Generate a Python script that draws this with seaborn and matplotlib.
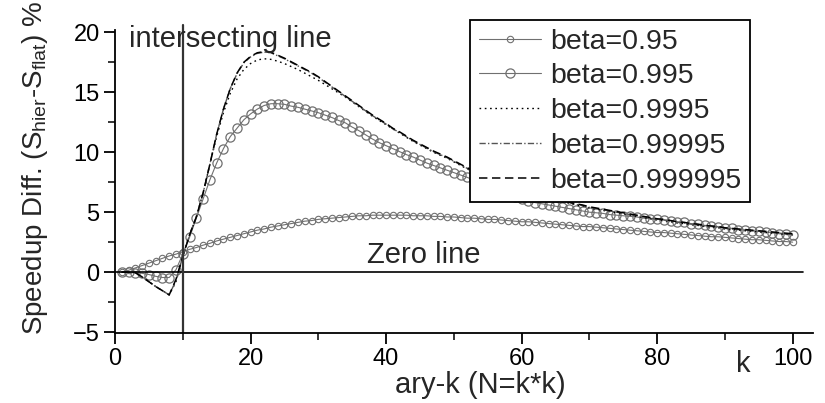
import matplotlib
matplotlib.use("Agg")
import matplotlib.pyplot as plt
import seaborn as sns
from matplotlib.ticker import MultipleLocator

# ---------------- data ----------------
k_values = list(range(1, 101))

beta_095 = [0.0, 0.15, 0.35, 0.55, 0.75, 0.95, 1.15, 1.35, 1.5, 1.7,
            1.9, 2.05, 2.25, 2.4, 2.6, 2.75, 2.9, 3.05, 3.2, 3.35,
            3.5, 3.6, 3.75, 3.85, 3.95, 4.05, 4.15, 4.25, 4.3, 4.4,
            4.45, 4.5, 4.55, 4.6, 4.65, 4.7, 4.7, 4.75, 4.75, 4.75,
            4.75, 4.75, 4.75, 4.7, 4.7, 4.7, 4.65, 4.65, 4.6, 4.6,
            4.55, 4.5, 4.5, 4.45, 4.4, 4.4, 4.35, 4.3, 4.25, 4.2,
            4.2, 4.15, 4.1, 4.05, 4.0, 3.95, 3.9, 3.85, 3.8, 3.8,
            3.75, 3.7, 3.65, 3.6, 3.55, 3.5, 3.45, 3.4, 3.35, 3.3,
            3.3, 3.25, 3.2, 3.15, 3.1, 3.05, 3.0, 2.95, 2.95, 2.9,
            2.85, 2.8, 2.75, 2.7, 2.7, 2.65, 2.6, 2.55, 2.55, 2.5]

beta_0995 = [0.0, 0.0, -0.05, -0.1, -0.2, -0.35, -0.45, -0.45, 0.2, 1.5,
             2.9, 4.5, 6.1, 7.7, 9.1, 10.3, 11.3, 12.0, 12.7, 13.2,
             13.6, 13.9, 14.05, 14.05, 14.0, 13.85, 13.75, 13.6, 13.45, 13.3,
             13.1, 12.9, 12.65, 12.45, 12.1, 11.8, 11.45, 11.1, 10.8, 10.55,
             10.3, 10.05, 9.8, 9.6, 9.35, 9.1, 8.9, 8.7, 8.5, 8.3,
             8.1, 7.9, 7.65, 7.4, 7.15, 6.9, 6.65, 6.45, 6.25, 6.1,
             5.95, 5.8, 5.7, 5.6, 5.5, 5.4, 5.3, 5.2, 5.1, 5.0,
             4.95, 4.9, 4.8, 4.75, 4.7, 4.65, 4.6, 4.5, 4.45, 4.4,
             4.35, 4.3, 4.2, 4.15, 4.05, 4.0, 3.9, 3.85, 3.8, 3.7,
             3.65, 3.55, 3.5, 3.45, 3.4, 3.35, 3.3, 3.2, 3.15, 3.1]

beta_09995 = [0.0, 0.0, -0.05, -0.4, -0.8, -1.2, -1.55, -1.9, -0.8, 1.3,
              3.1, 4.6, 6.6, 9.0, 11.3, 13.3, 14.9, 16.1, 16.9, 17.4,
              17.7, 17.8, 17.75, 17.6, 17.4, 17.15, 16.9, 16.6, 16.3, 16.0,
              15.65, 15.3, 14.95, 14.6, 14.2, 13.8, 13.4, 13.0, 12.65, 12.3,
              11.95, 11.6, 11.25, 10.9, 10.6, 10.3, 10.0, 9.75, 9.5, 9.2,
              8.9, 8.6, 8.35, 8.1, 7.9, 7.65, 7.4, 7.2, 7.0, 6.8,
              6.65, 6.5, 6.35, 6.2, 6.05, 5.9, 5.75, 5.6, 5.5, 5.35,
              5.25, 5.15, 5.05, 4.95, 4.85, 4.75, 4.65, 4.55, 4.45, 4.35,
              4.3, 4.2, 4.1, 4.05, 3.95, 3.9, 3.8, 3.75, 3.7, 3.6,
              3.55, 3.5, 3.45, 3.4, 3.35, 3.3, 3.25, 3.2, 3.15, 3.1]

beta_099995 = [0.0, 0.0, -0.05, -0.4, -0.8, -1.2, -1.55, -1.9, -0.7, 1.3,
               3.1, 4.6, 6.6, 9.0, 11.5, 13.6, 15.3, 16.55, 17.45, 17.95,
               18.25, 18.35, 18.3, 18.05, 17.8, 17.5, 17.2, 16.9, 16.6, 16.25,
               15.85, 15.45, 15.05, 14.65, 14.25, 13.85, 13.45, 13.05, 12.7, 12.35,
               11.95, 11.65, 11.3, 10.95, 10.65, 10.35, 10.05, 9.8, 9.55, 9.25,
               8.95, 8.65, 8.4, 8.15, 7.95, 7.7, 7.45, 7.25, 7.05, 6.85,
               6.7, 6.55, 6.4, 6.25, 6.1, 5.95, 5.8, 5.65, 5.55, 5.4,
               5.3, 5.2, 5.1, 5.0, 4.9, 4.8, 4.7, 4.6, 4.5, 4.4,
               4.35, 4.25, 4.15, 4.1, 4.0, 3.95, 3.85, 3.8, 3.75, 3.65,
               3.6, 3.55, 3.5, 3.45, 3.4, 3.35, 3.3, 3.25, 3.2, 3.15]

beta_0999995 = [0.0, 0.0, -0.05, -0.4, -0.8, -1.2, -1.55, -1.9, -0.6, 1.3,
                3.1, 4.6, 6.6, 9.0, 11.5, 13.6, 15.3, 16.6, 17.5, 18.0,
                18.3, 18.4, 18.35, 18.1, 17.85, 17.55, 17.25, 16.95, 16.65, 16.3,
                15.9, 15.5, 15.1, 14.7, 14.3, 13.9, 13.5, 13.1, 12.75, 12.4,
                12.0, 11.7, 11.35, 11.0, 10.7, 10.4, 10.1, 9.85, 9.6, 9.3,
                9.0, 8.7, 8.45, 8.2, 8.0, 7.75, 7.5, 7.3, 7.1, 6.9,
                6.75, 6.6, 6.45, 6.3, 6.15, 6.0, 5.85, 5.7, 5.6, 5.45,
                5.35, 5.25, 5.15, 5.05, 4.95, 4.85, 4.75, 4.65, 4.55, 4.45,
                4.4, 4.3, 4.2, 4.15, 4.05, 4.0, 3.9, 3.85, 3.8, 3.7,
                3.65, 3.6, 3.55, 3.5, 3.45, 3.4, 3.35, 3.3, 3.25, 3.2]

series_labels = ["beta=0.95", "beta=0.995", "beta=0.9995",
                 "beta=0.99995", "beta=0.999995"]

intersect_k = [10, 10]
intersect_v = [-5.1, 20.6]
zero_k = [0, 101.5]
zero_v = [0, 0]

# ---------------- style ----------------
sns.set_style("ticks")
plt.rcParams["font.family"] = ["Liberation Sans", "DejaVu Sans"]
plt.rcParams["mathtext.fontset"] = "custom"
plt.rcParams["mathtext.rm"] = "Liberation Sans"
plt.rcParams["mathtext.it"] = "Liberation Sans"

fig = plt.figure(figsize=(8.25, 4.03), dpi=100)
ax = fig.add_axes([115 / 825, 1 - 333 / 403, 698 / 825, 303 / 403])

gray = "#707070"

sns.lineplot(x=k_values, y=beta_095, ax=ax, color=gray, lw=0.8,
             marker="o", markersize=4.6, markerfacecolor="none",
             markeredgecolor=gray, markeredgewidth=0.8,
             label=series_labels[0], errorbar=None)
sns.lineplot(x=k_values, y=beta_0995, ax=ax, color=gray, lw=0.8,
             marker="o", markersize=6.6, markerfacecolor="none",
             markeredgecolor=gray, markeredgewidth=0.9,
             label=series_labels[1], errorbar=None)
sns.lineplot(x=k_values, y=beta_09995, ax=ax, color="black", lw=1.0,
             label=series_labels[2], errorbar=None)
sns.lineplot(x=k_values, y=beta_099995, ax=ax, color="#555555", lw=1.0,
             label=series_labels[3], errorbar=None)
sns.lineplot(x=k_values, y=beta_0999995, ax=ax, color="black", lw=1.1,
             label=series_labels[4], errorbar=None)

lines = ax.get_lines()
lines[2].set_dashes([1.2, 2.6])
lines[3].set_dashes([4.5, 1.6, 1.0, 1.6])
lines[4].set_dashes([5.5, 3.0])

# reference lines
sns.lineplot(x=zero_k, y=zero_v, ax=ax, color="black", lw=1.2,
             errorbar=None, legend=False, estimator=None, sort=False)
sns.lineplot(x=intersect_k, y=intersect_v, ax=ax, color="#333333", lw=1.6,
             errorbar=None, legend=False, estimator=None, sort=False,
             clip_on=False)

ax.set_xlim(0, 103)
ax.set_ylim(-5.08, 20.2)
ax.xaxis.set_major_locator(MultipleLocator(20))
ax.xaxis.set_minor_locator(MultipleLocator(10))
ax.yaxis.set_major_locator(MultipleLocator(5))
ax.yaxis.set_minor_locator(MultipleLocator(2.5))
ax.tick_params(axis="both", which="major", direction="out", length=8,
               width=1.3, labelsize=17, colors="black", pad=3)
ax.tick_params(axis="both", which="minor", direction="out", length=5,
               width=1.3)
for s in ["top", "right"]:
    ax.spines[s].set_visible(False)
for s in ["left", "bottom"]:
    ax.spines[s].set_linewidth(1.3)
    ax.spines[s].set_color("black")

# texts
ax.text(2.1, 18.8, "intersecting line", fontsize=21, va="baseline",
        ha="left")
ax.text(37.2, 0.8, "Zero line", fontsize=21, va="baseline", ha="left")
fig.text(743 / 825, 1 - 364 / 403, "k", fontsize=21, ha="center",
         va="center")
fig.text(480 / 825, 1 - 385 / 403, "ary-k (N=k*k)", fontsize=21,
         ha="center", va="center")
fig.text(35 / 825, 1 - 335 / 403,
         r"Speedup Diff. (S$_{\mathrm{hier}}$-S$_{\mathrm{flat}}$) %",
         fontsize=20, rotation=90, ha="center", va="bottom")

leg = ax.legend(loc="upper left", bbox_to_anchor=(470 / 825, 1 - 20 / 403),
                bbox_transform=fig.transFigure, fontsize=20.5, frameon=True,
                fancybox=False, edgecolor="black", framealpha=1,
                borderpad=0.3, labelspacing=0.31, handlelength=2.2,
                handletextpad=0.3, borderaxespad=0)
leg.get_frame().set_linewidth(1.3)

fig.savefig("out.png", dpi=100)
